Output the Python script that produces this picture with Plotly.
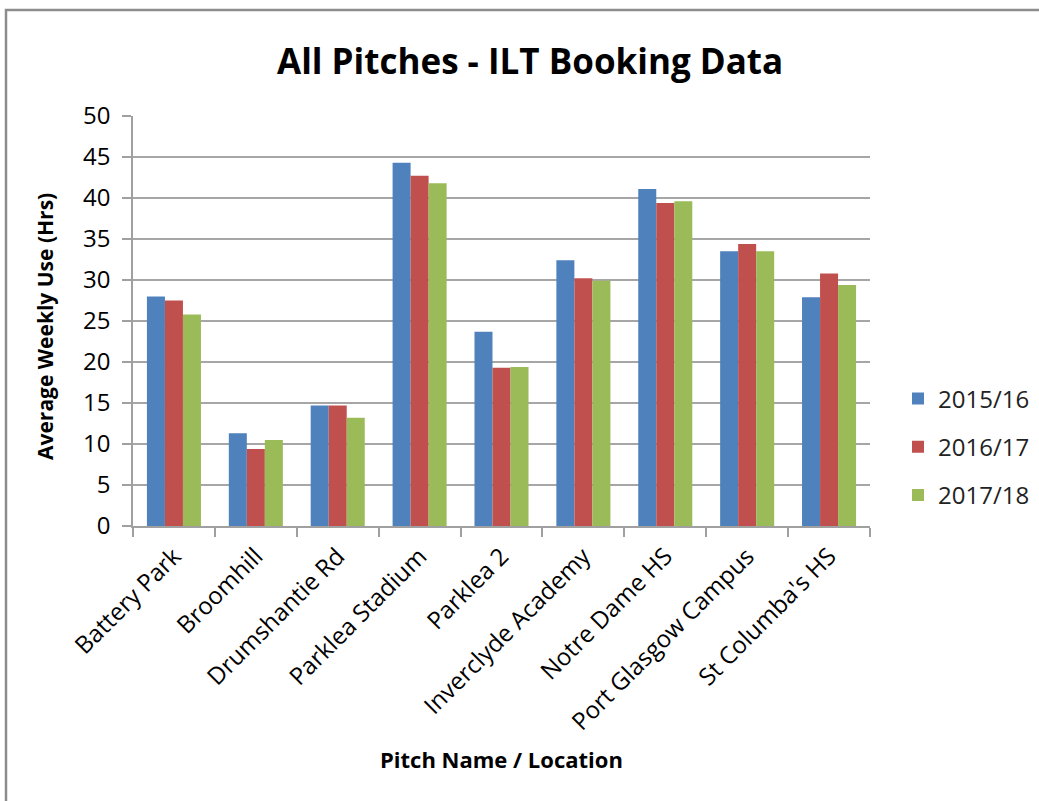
import plotly.graph_objects as go

categories = ["Battery Park", "Broomhill", "Drumshantie Rd", "Parklea Stadium", "Parklea 2",
              "Inverclyde Academy", "Notre Dame HS", "Port Glasgow Campus", "St Columba's HS"]
s2015 = [28.0, 11.3, 14.7, 44.3, 23.7, 32.4, 41.1, 33.5, 27.9]
s2016 = [27.5, 9.4, 14.7, 42.7, 19.3, 30.2, 39.4, 34.4, 30.8]
s2017 = [25.8, 10.5, 13.2, 41.8, 19.4, 29.9, 39.6, 33.5, 29.4]
series_names = ["2015/16", "2016/17", "2017/18"]
colors = ["#4F81BD", "#C0504D", "#9BBB59"]

FONT = "Open Sans"
W, H = 1039, 801
L, R, T, B = 133, 870, 116, 526

def px_x(p):
    return (p - L) / (R - L)

def px_y(p):
    return (B - p) / (B - T)

fig = go.Figure()
for i, (name, vals) in enumerate(zip(series_names, [s2015, s2016, s2017])):
    fig.add_trace(go.Bar(x=categories, y=vals, name=name, marker_color=colors[i],
                         marker_line_width=0, legendgroup=name))

fig.update_layout(
    width=W, height=H,
    margin=dict(l=L, r=W - R, t=T, b=H - B, autoexpand=False),
    paper_bgcolor="white", plot_bgcolor="white",
    barmode="group", bargap=0.34, bargroupgap=0,
    font=dict(family=FONT, color="#000000"),
    showlegend=True,
    legend=dict(x=px_x(898), y=px_y(447), xanchor="left", yanchor="middle",
                font=dict(size=24, family=FONT, color="#222"),
                tracegroupgap=14, traceorder="grouped"),
    xaxis=dict(type="category", showgrid=False, showline=True, linecolor="#A0A0A0", linewidth=1.5,
               ticks="outside", tickson="boundaries", ticklen=9, tickcolor="#A0A0A0", tickwidth=1.5,
               tickangle=-45, tickfont=dict(size=24, family=FONT, color="#000"),
               automargin=False, ticklabelstandoff=5),
    yaxis=dict(range=[0, 50], dtick=5, showgrid=True, gridcolor="#A6A6A6", gridwidth=1.5,
               showline=True, linecolor="#A0A0A0", linewidth=1.5,
               ticks="outside", ticklen=9, tickcolor="#A0A0A0", tickwidth=1.5,
               tickfont=dict(size=24, family=FONT, color="#000"), zeroline=False,
               automargin=False, ticklabelstandoff=7),
)

fig.add_annotation(text="<b>All Pitches - ILT Booking Data</b>", xref="paper", yref="paper",
                   x=px_x(530), y=px_y(60), showarrow=False, font=dict(size=35, family=FONT, color="#000"),
                   xanchor="center", yanchor="middle")
fig.add_annotation(text="<b>Pitch Name / Location</b>", xref="paper", yref="paper",
                   x=px_x(501), y=px_y(759), showarrow=False, font=dict(size=22, family=FONT, color="#000"),
                   xanchor="center", yanchor="middle")
fig.add_annotation(text="<b>Average Weekly Use (Hrs)</b>", xref="paper", yref="paper",
                   x=px_x(45), y=px_y(327), showarrow=False, textangle=-90,
                   font=dict(size=21, family=FONT, color="#000"),
                   xanchor="center", yanchor="middle")

fig.add_shape(type="rect", xref="paper", yref="paper",
              x0=px_x(6), x1=px_x(1050), y0=px_y(815), y1=px_y(10),
              line=dict(color="#8C8C8C", width=2.5), fillcolor="rgba(0,0,0,0)", layer="below")

fig.write_html("out.html")
